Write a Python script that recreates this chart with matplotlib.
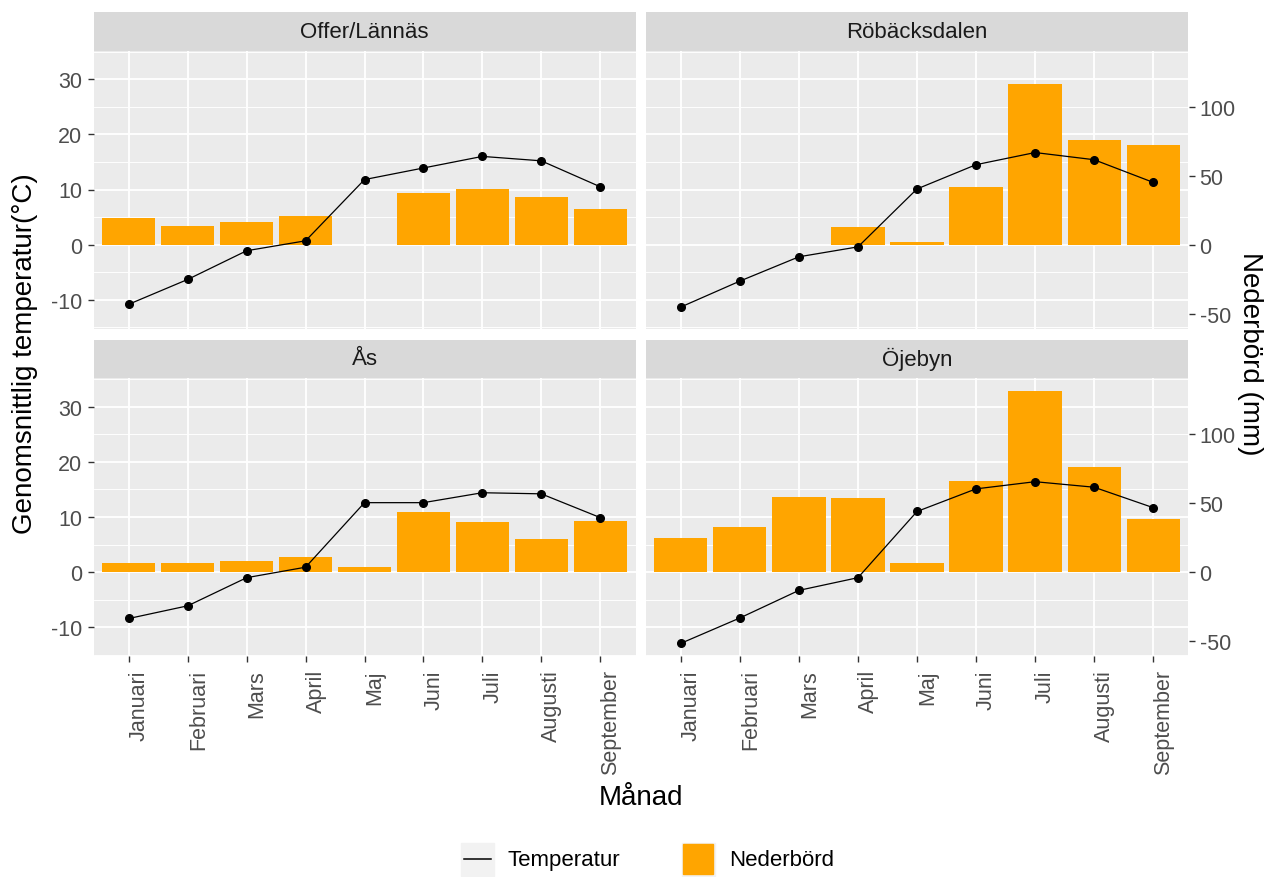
import numpy as np
import matplotlib
matplotlib.use("Agg")
import matplotlib.pyplot as plt
from matplotlib.patches import Rectangle
from matplotlib.lines import Line2D

plt.rcParams["font.family"] = ["Liberation Sans", "DejaVu Sans"]

# ---- data -------------------------------------------------------------
months = ["Januari", "Februari", "Mars", "April", "Maj",
          "Juni", "Juli", "Augusti", "September"]
stations = ["Offer/Lännäs", "Röbäcksdalen", "Ås", "Öjebyn"]

# mean monthly temperature (°C)
temp_offer = [-10.8, -6.3, -1.1, 0.7, 11.8, 13.9, 16.0, 15.2, 10.5]
temp_robacksdalen = [-11.3, -6.6, -2.2, -0.4, 10.1, 14.5, 16.7, 15.4, 11.3]
temp_as = [-8.4, -6.1, -1.0, 0.9, 12.6, 12.6, 14.4, 14.2, 9.9]
temp_ojebyn = [-12.9, -8.3, -3.3, -1.0, 11.0, 15.1, 16.4, 15.4, 11.7]

# monthly precipitation (mm); nan = no value
prec_offer = [19.5, 13.5, 16.6, 21.0, np.nan, 37.3, 40.5, 34.5, 25.8]
prec_robacksdalen = [np.nan, np.nan, np.nan, 12.5, 2.2, 41.7, 116.4, 75.9, 72.5]
prec_as = [7.0, 7.0, 8.0, 11.3, 4.1, 43.4, 36.1, 23.9, 37.3]
prec_ojebyn = [24.8, 33.0, 54.7, 53.7, 7.0, 66.3, 131.7, 76.4, 38.3]

temps = [temp_offer, temp_robacksdalen, temp_as, temp_ojebyn]
precs = [prec_offer, prec_robacksdalen, prec_as, prec_ojebyn]

# precipitation is shown on a secondary axis: mm = 4 * °C
MM_PER_DEG = 4.0

# ---- styling ----------------------------------------------------------
W, H = 1272, 878
PANEL_BG = "#EBEBEB"
STRIP_BG = "#D9D9D9"
TICK_TXT = "#4D4D4D"
TICK_COL = "#333333"
BAR_COL = "#FFA500"

fig = plt.figure(figsize=(W / 100, H / 100), dpi=100)


def px_axes(x0, y0, x1, y1):
    """Axes from pixel box (top-left origin)."""
    return fig.add_axes([x0 / W, 1 - y1 / H, (x1 - x0) / W, (y1 - y0) / H])


cols = [(93.5, 635.5), (645.5, 1188.5)]
rows = [((12.5, 51.5), (51.5, 329.5)), ((340.5, 379.0), (379.0, 657.0))]

x = np.arange(len(months))

for i, name in enumerate(stations):
    r, c = divmod(i, 2)
    (sx0, sx1) = cols[c]
    (st0, st1), (py0, py1) = rows[r]

    # facet strip
    sax = px_axes(sx0, st0, sx1, st1)
    sax.set_facecolor(STRIP_BG)
    sax.set_xticks([]); sax.set_yticks([])
    for s in sax.spines.values():
        s.set_visible(False)
    sax.text(0.5, 0.5, name, ha="center", va="center", fontsize=16,
             color="#1A1A1A", transform=sax.transAxes)

    ax = px_axes(sx0, py0, sx1, py1)
    ax.set_facecolor(PANEL_BG)
    for s in ax.spines.values():
        s.set_visible(False)
    ax.set_xlim(-0.6, len(months) - 0.4)
    ax.set_ylim(-15.2, 35.2)
    ax.set_yticks([-10, 0, 10, 20, 30])
    ax.set_yticks([-15, -5, 5, 15, 25, 35], minor=True)
    ax.set_xticks(x)
    ax.grid(which="major", color="white", lw=1.3)
    ax.grid(which="minor", axis="y", color="white", lw=0.65)
    ax.set_axisbelow(True)
    ax.tick_params(which="minor", length=0)
    ax.tick_params(which="major", length=4.5, width=1.0, color=TICK_COL,
                   labelcolor=TICK_TXT, labelsize=15.5, pad=3.5)

    p = np.array(precs[i], dtype=float)
    ok = ~np.isnan(p)
    ax.bar(x[ok], p[ok] / MM_PER_DEG, width=0.9, color=BAR_COL, zorder=2)
    ax.plot(x, temps[i], color="black", lw=0.9, marker="o", ms=5.5, zorder=3)

    if c == 0:
        ax.set_yticklabels(["-10", "0", "10", "20", "30"])
    else:
        ax.tick_params(axis="y", which="both", left=False, labelleft=False)
        sec = ax.secondary_yaxis("right",
                                 functions=(lambda t: t * MM_PER_DEG,
                                            lambda m: m / MM_PER_DEG))
        sec.set_yticks([-50, 0, 50, 100])
        sec.set_yticklabels(["-50", "0", "50", "100"])
        sec.spines["right"].set_visible(False)
        sec.tick_params(length=4.5, width=1.0, color=TICK_COL,
                        labelcolor=TICK_TXT, labelsize=15.5, pad=3.5)

    if r == 1:
        ax.set_xticklabels(months, rotation=90, ha="left", va="top")
        ax.tick_params(axis="x", pad=5)
    else:
        ax.tick_params(axis="x", bottom=False, labelbottom=False)

# axis titles
fig.text(25 / W, 1 - 354 / H, "Genomsnittlig temperatur(°C)", rotation=90,
         ha="center", va="center", fontsize=20)
fig.text(1250 / W, 1 - 354 / H, "Nederbörd (mm)", rotation=-90,
         ha="center", va="center", fontsize=20)
fig.text(641 / W, 1 - 798 / H, "Månad", ha="center", va="center", fontsize=20)

# legend at the bottom
lax = fig.add_axes([0, 0, 1, 1], facecolor="none")
lax.set_xlim(0, W); lax.set_ylim(H, 0); lax.axis("off")
lax.add_patch(Rectangle((461, 844), 33, 33, color="#F2F2F2"))
lax.add_line(Line2D([464, 491], [860.5, 860.5], color="black", lw=1.1))
lax.text(508, 860.5, "Temperatur", ha="left", va="center", fontsize=16)
lax.add_patch(Rectangle((681.5, 844), 33, 33, color="#F2F2F2"))
lax.add_patch(Rectangle((683, 845.5), 30, 30, color=BAR_COL))
lax.text(729, 860.5, "Nederbörd", ha="left", va="center", fontsize=16)

fig.savefig("out.png", dpi=100)
